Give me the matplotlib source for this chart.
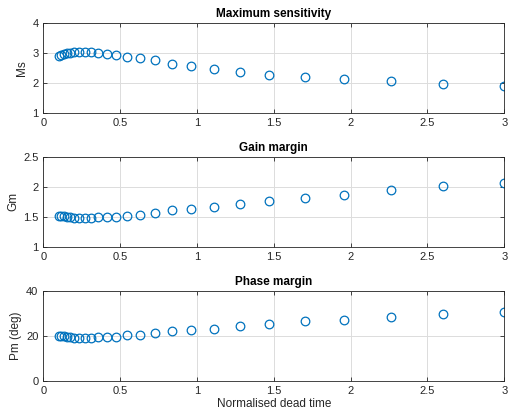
import numpy as np
import matplotlib
matplotlib.use('Agg')
from matplotlib import pyplot as plt

plt.rcParams['font.family'] = ['Liberation Sans', 'DejaVu Sans']

# normalised dead time
tau = [0.10, 0.115, 0.133, 0.153, 0.176, 0.203, 0.234, 0.269, 0.311, 0.358,
       0.412, 0.475, 0.547, 0.630, 0.726, 0.836, 0.964, 1.11, 1.28, 1.47,
       1.70, 1.96, 2.26, 2.60, 3.0]
ms = [2.90, 2.93, 2.97, 3.00, 3.01, 3.02, 3.03, 3.03, 3.02, 2.99,
      2.98, 2.93, 2.87, 2.84, 2.75, 2.62, 2.57, 2.47, 2.38, 2.28,
      2.20, 2.12, 2.05, 1.95, 1.90]
gm = [1.52, 1.52, 1.51, 1.50, 1.49, 1.48, 1.48, 1.48, 1.48, 1.49,
      1.49, 1.50, 1.52, 1.53, 1.56, 1.61, 1.63, 1.66, 1.71, 1.77,
      1.82, 1.87, 1.94, 2.02, 2.07]
pm = [20.0, 19.9, 19.7, 19.4, 19.3, 19.1, 19.0, 19.0, 19.0, 19.3,
      19.3, 19.6, 20.2, 20.5, 21.1, 22.0, 22.6, 23.2, 24.2, 25.4,
      26.5, 27.2, 28.3, 29.6, 30.4]

panels = [
    (ms, 'Maximum sensitivity', 'Ms', (1, 4), [1, 2, 3, 4]),
    (gm, 'Gain margin', 'Gm', (1, 2.5), [1, 1.5, 2, 2.5]),
    (pm, 'Phase margin', 'Pm (deg)', (0, 40), [0, 20, 40]),
]
bottoms = [0.7297, 0.4098, 0.0892]

fig = plt.figure(figsize=(5.08, 4.18), dpi=100)
for i, (vals, title, ylab, ylim, yt) in enumerate(panels):
    ax = fig.add_axes([0.0852, bottoms[i], 0.9075, 0.2153])
    ax.plot(tau, vals, 'o', mfc='none', mec='#0072BD', ms=6.2, mew=0.9)
    ax.set_xlim(0, 3)
    ax.set_ylim(*ylim)
    ax.set_yticks(yt)
    ax.set_yticklabels([('%g' % v) for v in yt])
    ax.set_xticks([0, 0.5, 1, 1.5, 2, 2.5, 3])
    ax.set_xticklabels(['0', '0.5', '1', '1.5', '2', '2.5', '3'])
    ax.grid(True, color='#dcdcdc', lw=0.7)
    ax.set_axisbelow(True)
    ax.tick_params(direction='in', top=True, right=True, labelsize=8,
                   colors='#262626', length=3, width=0.6)
    for s in ax.spines.values():
        s.set_color('#262626')
        s.set_linewidth(0.6)
    ax.set_title(title, fontsize=8.5, fontweight='bold', pad=4)
    ax.set_ylabel(ylab, fontsize=8.5, color='#262626', labelpad=3)
    if i == 2:
        ax.set_xlabel('Normalised dead time', fontsize=8.5, color='#262626', labelpad=2)

fig.savefig('out.png', dpi=100)
